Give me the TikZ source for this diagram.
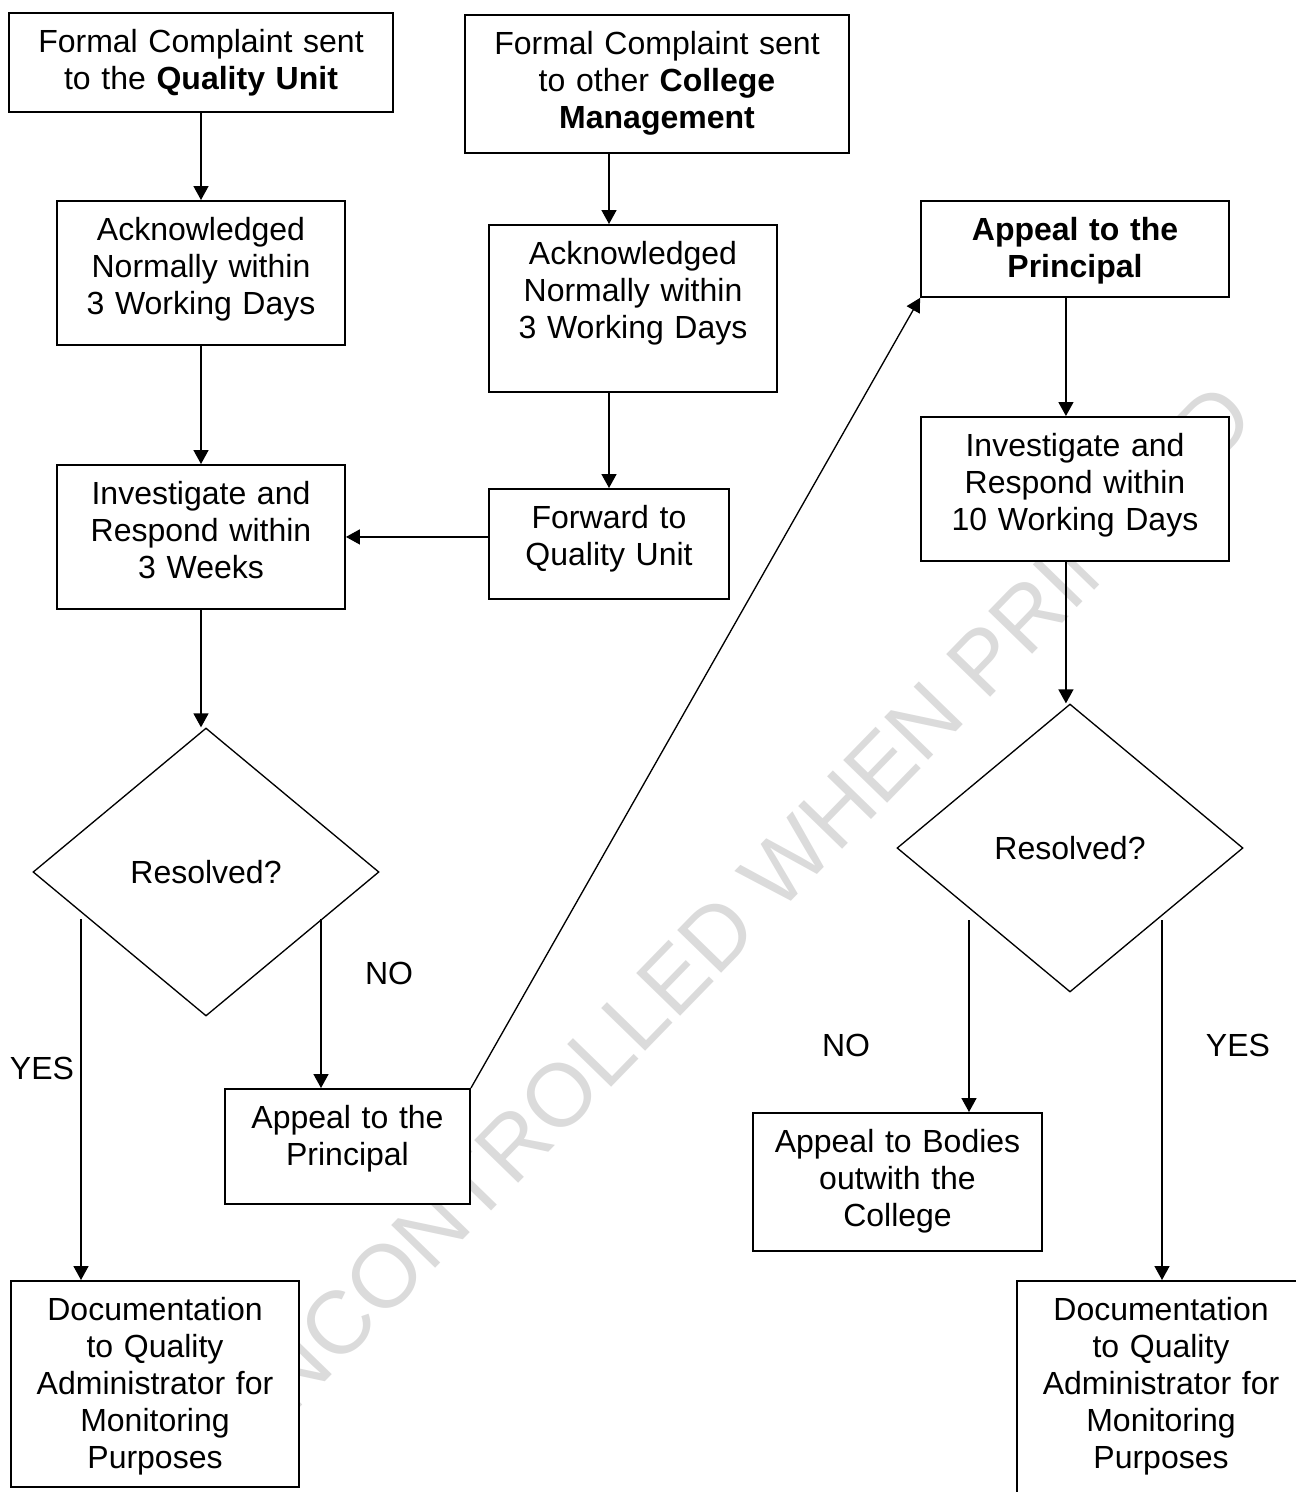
\documentclass[tikz,border=0pt]{standalone}
\usepackage{fontspec}
\setmainfont{Liberation Sans}
\usetikzlibrary{shapes.geometric,arrows.meta}

\begin{document}
\begin{tikzpicture}[x=0.375pt,y=-0.375pt,font=\fontsize{12}{13.8}\selectfont]

      \useasboundingbox (0,0) rectangle (1296,1492);

      \node[text=black!14,rotate=45.8,font=\fontsize{33.4}{33.4}\selectfont] (wm) at (731,920) {UNCONTROLLED WHEN PRINTED};

      \begin{scope}[every node/.style={draw,fill=white,line width=0.7pt,inner sep=0pt,align=center,anchor=north,text height=15pt}]
        \node[text width=144pt,text depth=22.1pt]    (q1)     at (201,12)    {Formal Complaint sent\\to the \textbf{Quality Unit}};
        \node[text width=144pt,text depth=36.75pt]   (c1)     at (657,14)    {Formal Complaint sent\\to other \textbf{College}\\\textbf{Management}};
        \node[text width=108pt,text depth=39pt]      (ack1)   at (201,200)   {Acknowledged\\Normally within\\3 Working Days};
        \node[text width=108pt,text depth=47.6pt]    (ack2)   at (633,224)   {Acknowledged\\Normally within\\3 Working Days};
        \node[text width=115.5pt,text depth=21pt]    (app2)   at (1075,200)  {\textbf{Appeal to the}\\\textbf{Principal}};
        \node[text width=108pt,text depth=39pt]      (inv1)   at (201,464)   {Investigate and\\Respond within\\3 Weeks};
        \node[text width=90pt,text depth=26.25pt]    (fwd)    at (609,488)   {Forward to\\Quality Unit};
        \node[text width=115.5pt,text depth=39pt]    (inv2)   at (1075,416)  {Investigate and\\Respond within\\10 Working Days};
        \node[text width=91.9pt,text depth=28.1pt]   (app1)   at (347.5,1088) {Appeal to the\\Principal};
        \node[text width=108.4pt,text depth=36.75pt] (bodies) at (897.5,1112) {Appeal to Bodies\\outwith the\\College};
        \node[text width=108pt,text depth=62.25pt]   (doc1)   at (155,1280)  {Documentation\\to Quality\\Administrator for\\Monitoring\\Purposes};
        \node[text width=108pt,text depth=67.5pt]    (doc2)   at (1161,1280) {Documentation\\to Quality\\Administrator for\\Monitoring\\Purposes};
      \end{scope}

      \begin{scope}[every node/.style={diamond,draw,fill=white,line width=0.5pt,minimum width=129.75pt,minimum height=108pt,inner sep=0pt}]
        \node (res1) at (206,872)  {Resolved?};
        \node (res2) at (1070,848) {Resolved?};
      \end{scope}

      \coordinate (yes1) at (81,919);
      \coordinate (no1)  at (321,919);
      \coordinate (no2)  at (969,920);
      \coordinate (yes2) at (1162,920);

      \begin{scope}[every edge/.style={draw,line width=0.5pt,-{Triangle[length=5.2pt,width=5.6pt]}}]
        \path (q1.south) edge (ack1.north);
        \path (c1.south -| fwd.north) edge (ack2.north -| fwd.north);
        \path (ack2.south -| fwd.north) edge (fwd.north);
        \path (ack1.south) edge (inv1.north);
        \path (fwd.west |- inv1.east) edge (inv1.east);
        \path (inv1.south) edge (inv1.south |- res1.north);
        \path (yes1) edge (yes1 |- doc1.north);
        \path (no1) edge (no1 |- app1.north);
        \path (app1.north east) edge (app2.south west);
        \path ([xshift=-3.4pt]app2.south) edge ([xshift=-3.4pt]inv2.north);
        \path ([xshift=-3.4pt]inv2.south) edge ([xshift=-3.4pt]inv2.south |- res2.north);
        \path (no2) edge (no2 |- bodies.north);
        \path (yes2) edge (yes2 |- doc2.north);
      \end{scope}

      \node (lyes1) at (42,1068)  {YES};
      \node (lno1)  at (389,973)  {NO};
      \node (lno2)  at (846,1045) {NO};
      \node (lyes2) at (1238,1045) {YES};

    \end{tikzpicture}
\end{document}
